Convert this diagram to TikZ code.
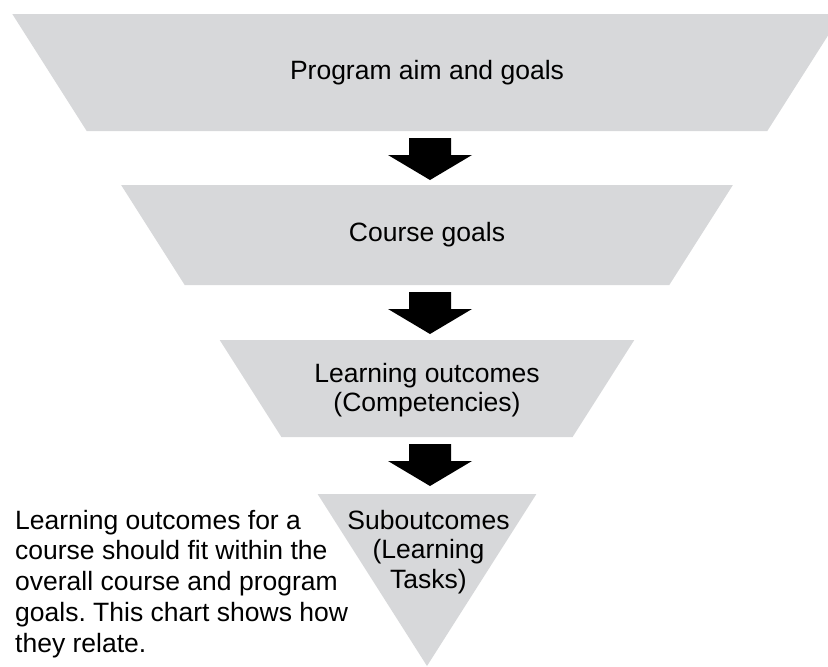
\documentclass[tikz,border=0pt]{standalone}
\usepackage{fontspec}
\setmainfont{Liberation Sans}
\frenchspacing
\definecolor{funnel}{RGB}{215,216,218}
\begin{document}
\begin{tikzpicture}[x=1pt,y=-1pt,
  levelfill/.style={fill=funnel, draw=none},
  lbl/.style={font=\fontsize{26.5}{29.5}\selectfont, align=center, inner sep=0pt, text=black},
  note/.style={font=\fontsize{26.5}{30.75}\selectfont, align=left, inner sep=0pt, text=black},
  downarrow/.pic={\fill[black] (-21,7) -- (21,7) -- (21,24) -- (42,24) -- (0,49) -- (-42,24) -- (-21,24) -- cycle;}]
\useasboundingbox (0,0) rectangle (828,667);
\begin{scope}
  \clip (0,0) rectangle (828,667);
  \path[levelfill] (12.3,14) -- (841.7,14) -- (767.3,131) -- (86.7,131) -- cycle;
\end{scope}
\path[levelfill] (121.1,185) -- (732.9,185) -- (669.3,285) -- (184.7,285) -- cycle;
\path[levelfill] (219.7,340) -- (634.3,340) -- (572.6,437) -- (281.4,437) -- cycle;
\path[levelfill] (317.6,494) -- (536.4,494) -- (427,666) -- cycle;

\node[lbl] (program) at (427,72.5) {Program aim and goals};
\node[lbl] (course) at (427,235) {Course goals};
\node[lbl, anchor=north] (outcomes) at (427,362.7) {Learning outcomes\\(Competencies)};
\node[lbl, anchor=north] (sub) at (428.5,509.7) {Suboutcomes\\(Learning\\Tasks)};
\node[note, anchor=north west] (explain) at (15,509.7) {Learning outcomes for a\\course should fit within the\\overall course and program\\goals. This chart shows how\\they relate.};

\coordinate (a1) at (430,131);
\coordinate (a2) at (430,285);
\coordinate (a3) at (430,437);
\pic at (a1) {downarrow};
\pic at (a2) {downarrow};
\pic at (a3) {downarrow};
\end{tikzpicture}
\end{document}
